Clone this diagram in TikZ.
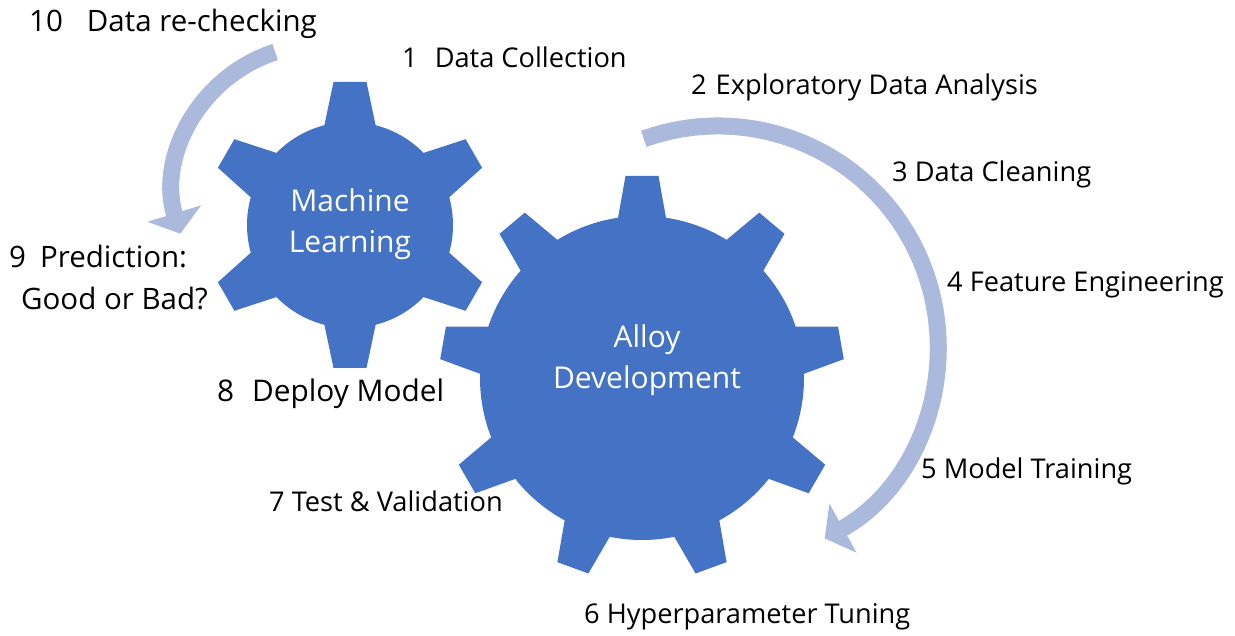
\documentclass[tikz,border=0pt]{standalone}
\usepackage{fontspec}
\setmainfont{Open Sans}
\usetikzlibrary{arrows.meta}
\definecolor{gearblue}{RGB}{68,114,196}
\definecolor{arrowblue}{RGB}{171,185,220}
\begin{document}
\begin{tikzpicture}[x=1pt,y=1pt,
  lbl/.style={anchor=base west, inner sep=0pt, font=\fontsize{27.2}{31}\selectfont},
  lblbig/.style={anchor=base west, inner sep=0pt, font=\fontsize{29.8}{34}\selectfont},
  lblmid/.style={anchor=base west, inner sep=0pt, font=\fontsize{29.5}{34}\selectfont},
  geartext/.style={anchor=base, inner sep=0pt, text=white, font=\fontsize{30}{34}\selectfont},
  flow/.style={draw=arrowblue, line width=17pt, -{Triangle[length=21pt,width=55pt]}},
  gearfill/.style={fill=gearblue}]
\useasboundingbox (0,0) rectangle (1235,635);

% small gear
\coordinate (smallc) at (350,410);
\fill[gearfill] (smallc) circle[radius=103];
\foreach \a in {30,90,...,330}
  \fill[gearfill,shift={(smallc)},rotate=\a] (80,-29.8) -- (143,-16.5) -- (143,16.5) -- (80,29.8) -- cycle;

% big gear
\coordinate (bigc) at (642,257);
\fill[gearfill] (bigc) circle[radius=162];
\foreach \a in {10,50,...,330}
  \fill[gearfill,shift={(bigc)},rotate=\a] (140,-27.6) -- (202,-16.5) -- (202,16.5) -- (140,27.6) -- cycle;

% gear texts
\node[geartext] (ml1) at (350,423) {Machine};
\node[geartext] (ml2) at (350,382) {Learning};
\node[geartext] (ad1) at (647,287) {Alloy};
\node[geartext] (ad2) at (647,246) {Development};

% arrows
\coordinate (bigtail) at ({718+220*cos(109.7)},{289+220*sin(109.7)});
\draw[flow] (bigtail) arc[start angle=109.7, end angle=-61, radius=220];
\coordinate (smalltail) at ({320+146*cos(107.9)},{444+146*sin(107.9)});
\draw[flow] (smalltail) arc[start angle=107.9, end angle=197, radius=146];

% labels
\node[lblmid] (l10) at (29,603) {10\hspace{24pt}Data re-checking};
\node[lbl] (l1) at (402,567) {1\hspace{17pt}Data Collection};
\node[lbl] (l2) at (691,540) {2\hspace{9pt}Exploratory Data Analysis};
\node[lbl] (l3) at (892,453) {3 Data Cleaning};
\node[lbl] (l4) at (947,343) {4 Feature Engineering};
\node[lbl] (l5) at (921,156) {5 Model Training};
\node[lbl] (l6) at (584,12) {6 Hyperparameter Tuning};
\node[lbl] (l7) at (269,123) {7 Test \& Validation};
\node[lblbig] (l8) at (217,233) {8\hspace{18pt}Deploy Model};
\node[lblmid] (l9a) at (9,367) {9\hspace{14pt}Prediction:};
\node[lblmid] (l9b) at (21,325) {Good or Bad?};
\end{tikzpicture}
\end{document}
